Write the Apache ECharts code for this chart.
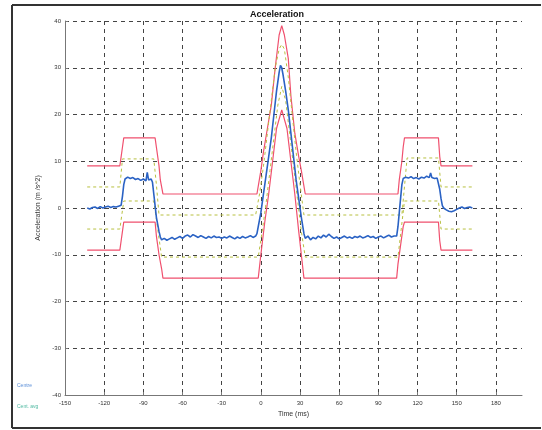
<!DOCTYPE html>
<html>
<head>
<meta charset="utf-8">
<title>Acceleration</title>
<script src="https://cdn.jsdelivr.net/npm/echarts@6/dist/echarts.min.js"></script>
<style>
  html, body { margin: 0; padding: 0; background: #fff; }
  #main { width: 542px; height: 430px; }
</style>
</head>
<body>
<div id="main"></div>
<script>
// axis ticks
var xTicks = { min: -150, max: 200, step: 30 }
var yTicks = { min: -40, max: 40, step: 10 }

// measured acceleration (time ms, m/s^2)
var centre = [
  [-133, 0.0], [-131, -0.2], [-129, 0.1], [-127, 0.2], [-125, -0.1], [-123, 0.3], [-121, 0.0],
  [-119, 0.2], [-117, 0.4], [-115, 0.1], [-113, 0.3], [-111, 0.2], [-109, 0.4], [-107, 0.6],
  [-106, 2.5], [-105, 5.0], [-104, 6.2], [-102, 6.6], [-100, 6.3], [-98, 6.5], [-96, 6.1],
  [-94, 6.3], [-92, 5.9], [-90, 6.2], [-88, 5.8], [-87, 7.6], [-86, 6.0], [-85, 5.6], [-84, 6.2],
  [-83, 5.5], [-82, 3.0], [-81, 0.5], [-80, -2.0], [-79, -3.5], [-78, -5.0], [-77, -6.2],
  [-76, -6.8], [-74, -6.5], [-72, -6.9], [-70, -6.6], [-68, -6.3], [-66, -6.7], [-64, -6.4],
  [-62, -6.1], [-60, -6.5], [-58, -6.0], [-56, -5.8], [-54, -6.2], [-52, -5.7], [-50, -6.0],
  [-48, -6.3], [-46, -5.9], [-44, -6.2], [-42, -6.5], [-40, -6.1], [-38, -6.4], [-36, -6.0],
  [-34, -6.3], [-32, -6.2], [-30, -6.5], [-28, -6.2], [-26, -6.4], [-24, -6.0], [-22, -6.3],
  [-20, -6.6], [-18, -6.2], [-16, -6.5], [-14, -6.1], [-12, -6.4], [-10, -6.2], [-8, -5.9],
  [-6, -6.3], [-4, -6.0], [-3, -5.5], [-2, -4.0], [0, -1.0], [2, 3.0], [4, 7.0], [6, 11.0],
  [8, 15.0], [10, 20.0], [12, 25.0], [14, 29.0], [15, 30.5], [16, 30.0], [17, 28.5], [19, 25.0],
  [21, 21.0], [23, 16.0], [25, 11.0], [27, 6.0], [29, 2.0], [31, -2.0], [33, -5.5], [34, -6.5],
  [36, -6.0], [38, -6.8], [40, -6.3], [42, -6.6], [44, -6.0], [46, -6.4], [48, -5.8], [50, -6.2],
  [52, -5.6], [54, -6.1], [56, -6.5], [58, -6.2], [60, -6.6], [62, -6.3], [64, -6.0], [66, -6.4],
  [68, -6.2], [70, -6.5], [72, -6.1], [74, -6.3], [76, -6.0], [78, -6.4], [80, -6.2], [82, -5.9],
  [84, -6.3], [86, -6.1], [88, -6.5], [90, -6.2], [92, -6.0], [94, -6.4], [96, -6.1], [98, -5.8],
  [100, -6.2], [102, -6.0], [104, -6.0], [105, -4.0], [106, -1.0], [107, 2.0], [108, 5.0],
  [109, 6.3], [111, 6.6], [113, 6.4], [115, 6.7], [117, 6.3], [119, 6.5], [121, 6.2], [123, 6.6],
  [125, 6.4], [127, 6.8], [129, 6.5], [130, 7.5], [131, 6.5], [133, 6.3], [135, 6.4], [136, 6.2],
  [137, 4.0], [138, 2.0], [139, 0.5], [140, 0.0], [142, -0.4], [144, -0.7], [146, -0.8],
  [148, -0.6], [150, -0.3], [152, 0.0], [154, 0.2], [156, -0.1], [158, 0.1], [160, 0.2], [162, 0.0]
]

// corridor limits
var upperLimit = [
  [-133, 9], [-108, 9], [-107, 11], [-106, 13], [-105, 15], [-81, 15], [-80, 13], [-78, 9],
  [-77, 6], [-75, 3], [-3, 3], [0, 8], [2, 12], [5, 17], [8, 22], [11, 30], [14, 37], [16, 39],
  [18, 37], [21, 32], [23, 24], [26, 16], [29, 11], [31, 8], [34, 3], [105, 3], [106, 6],
  [108, 10], [109, 13], [110, 15], [136, 15], [137, 11], [138, 9], [162, 9]
]
var lowerLimit = [
  [-133, -9], [-108, -9], [-107, -7], [-106, -5], [-105, -3], [-81, -3], [-80, -6], [-78, -10],
  [-76, -13], [-75, -15], [-2, -15], [0, -10], [3, -3], [6, 3], [9, 10], [12, 17], [16, 21],
  [20, 17], [23, 10], [26, 3], [29, -5], [31, -10], [33, -15], [104, -15], [105, -12],
  [107, -8], [109, -4], [110, -3], [136, -3], [137, -7], [138, -9], [162, -9]
]
var upperAvg = [
  [-133, 4.5], [-108, 4.5], [-106, 10.5], [-82, 10.5], [-80, 5], [-78, -1.5], [-4, -1.5],
  [-1, 3], [2, 9], [5, 16], [8, 23], [11, 30], [14, 34], [16, 35], [18, 34], [21, 28], [24, 20],
  [27, 12], [30, 5], [33, -1.5], [108, -1.5], [112, 10.7], [136, 10.7], [138, 4.5], [162, 4.5]
]
var lowerAvg = [
  [-133, -4.5], [-108, -4.5], [-105, 1.5], [-82, 1.5], [-76, -10.5], [-2, -10.5], [1, -5],
  [4, 1], [7, 8], [10, 15], [13, 22], [16, 26], [19, 23], [22, 16], [25, 9], [28, 2], [31, -5],
  [34, -10.5], [105, -10.5], [110, 1.5], [136, 1.5], [138, -4.5], [162, -4.5]
]

var chart = echarts.init(document.getElementById('main'))

var font = 'Liberation Sans, Arial, sans-serif'
var gridLine = { show: true, lineStyle: { color: '#444', type: [4, 4], width: 1 } }

function lineSeries (name, data, color, width, type) {
  return {
    name: name,
    type: 'line',
    data: data,
    showSymbol: false,
    silent: true,
    lineStyle: { color: color, width: width, type: type || 'solid' }
  }
}

var opt = {
  animation: false,
  backgroundColor: '#fff',
  title: {
    text: 'Acceleration',
    left: 272,
    top: 5,
    textAlign: 'center',
    textStyle: { fontFamily: font, fontSize: 9, fontWeight: 'bold', color: '#111' }
  },
  grid: { left: 65, right: 20, top: 21, bottom: 35 },
  xAxis: {
    type: 'value',
    min: xTicks.min,
    max: xTicks.max,
    interval: xTicks.step,
    name: 'Time (ms)',
    nameLocation: 'middle',
    nameGap: 15,
    nameTextStyle: { fontFamily: font, fontSize: 7, color: '#333' },
    axisLine: { onZero: false, lineStyle: { color: '#777', width: 1 } },
    axisTick: { inside: true, length: 3, lineStyle: { color: '#777' } },
    axisLabel: { fontFamily: font, fontSize: 6, color: '#333', margin: 5, showMaxLabel: false },
    splitLine: Object.assign({ showMinLine: false, showMaxLine: false }, gridLine)
  },
  yAxis: {
    type: 'value',
    min: yTicks.min,
    max: yTicks.max,
    interval: yTicks.step,
    name: 'Acceleration (m /s^2)',
    nameLocation: 'middle',
    nameGap: 18,
    nameTextStyle: { fontFamily: font, fontSize: 7, color: '#333' },
    axisLine: { onZero: false, lineStyle: { color: '#777', width: 1 } },
    axisTick: { inside: true, length: 3, lineStyle: { color: '#777' } },
    axisLabel: { fontFamily: font, fontSize: 6, color: '#333', margin: 4 },
    splitLine: Object.assign({ showMinLine: false, showMaxLine: true }, gridLine)
  },
  series: [
    lineSeries('Upper limit', upperLimit, '#f0506e', 1.2),
    lineSeries('Lower limit', lowerLimit, '#f0506e', 1.2),
    lineSeries('Upper avg', upperAvg, '#b8c040', 1, [3, 3]),
    lineSeries('Lower avg', lowerAvg, '#b8c040', 1, [3, 3]),
    lineSeries('Centre', centre, '#2a62c4', 1.6)
  ],
  graphic: [
    // figure frame
    { type: 'line', shape: { x1: 12, y1: 5, x2: 541, y2: 5 }, style: { stroke: '#333', lineWidth: 2 } },
    { type: 'line', shape: { x1: 12, y1: 5, x2: 12, y2: 428 }, style: { stroke: '#333', lineWidth: 2 } },
    { type: 'line', shape: { x1: 12, y1: 428, x2: 541, y2: 428 }, style: { stroke: '#333', lineWidth: 2 } },
    { type: 'text', left: 17, top: 383, style: { text: 'Centre', font: '5px ' + font, fill: '#5b8fd8' } },
    { type: 'text', left: 17, top: 404, style: { text: 'Cent. avg', font: '5px ' + font, fill: '#4db8a0' } }
  ]
}

chart.setOption(opt)
</script>
</body>
</html>
